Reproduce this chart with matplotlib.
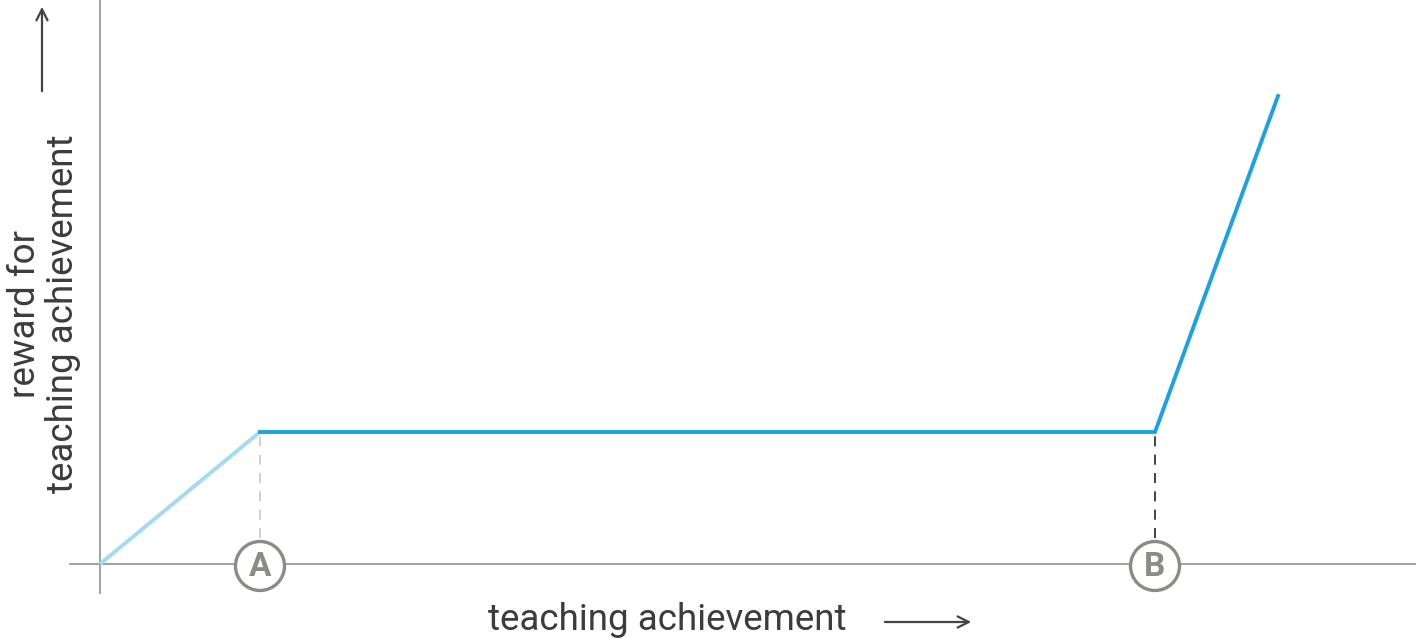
import matplotlib
matplotlib.use("Agg")
import matplotlib.pyplot as plt
from matplotlib.patches import Circle

# data
x_light = [0.0, 1.6]
y_light = [0.0, 1.32]
x_main = [1.6, 10.55, 11.78]
y_main = [1.32, 1.32, 4.68]
markers = ["A", "B"]
marker_x = [1.6, 10.55]
plateau = 1.32
xlabel = "teaching achievement"
ylabel = "reward for\nteaching achievement"

plt.rcParams['font.family'] = ['Roboto', 'DejaVu Sans']
fig = plt.figure(figsize=(14.16, 6.38), dpi=100)
ax = fig.add_axes([0, 0, 1, 1])
ax.set_xlim(-1.0, 13.16)
ax.set_ylim(-0.74, 5.64)
ax.axis('off')

axis_col = '#9a9a9a'
ax.plot([-0.3, 13.16], [0, 0], color=axis_col, lw=1.3, zorder=1)
ax.plot([0, 0], [-0.29, 5.64], color=axis_col, lw=1.3, zorder=1)

ax.plot(x_light, y_light, color='#a3daf5', lw=2.8, solid_capstyle='butt', zorder=3)
ax.plot(x_main, y_main, color='#1aa3e0', lw=2.8, solid_joinstyle='miter', zorder=3)

# dashed guides
ax.plot([marker_x[0]] * 2, [0.26, plateau], color='#c8c8c8', lw=1.2, ls=(0, (6, 5)), zorder=2)
ax.plot([marker_x[1]] * 2, [0.26, plateau], color='#222222', lw=1.2, ls=(0, (6, 5)), zorder=2)

for lab, mx in zip(markers, marker_x):
    c = Circle((mx, -0.02), 0.245, facecolor='white', edgecolor='#8c8c86', lw=2.4, zorder=4)
    ax.add_patch(c)
    ax.text(mx, -0.03, lab, ha='center', va='center', fontsize=24, fontweight='bold',
            color='#8c8c86', zorder=5)

ax.text(5.67, -0.56, xlabel, ha='center', va='center', fontsize=26.5, color='#3c3c3c')
ax.text(-0.56, 2.5, ylabel, ha='center', va='center', fontsize=26.5, color='#3c3c3c',
        rotation=90, linespacing=1.1)

ax.annotate('', xy=(8.74, -0.58), xytext=(7.82, -0.58),
            arrowprops=dict(arrowstyle='->,head_length=0.8,head_width=0.4', color='#444444', lw=1.6))
ax.annotate('', xy=(-0.58, 5.60), xytext=(-0.58, 4.70),
            arrowprops=dict(arrowstyle='->,head_length=0.8,head_width=0.4', color='#444444', lw=1.6))

fig.savefig('out.png', dpi=100)
